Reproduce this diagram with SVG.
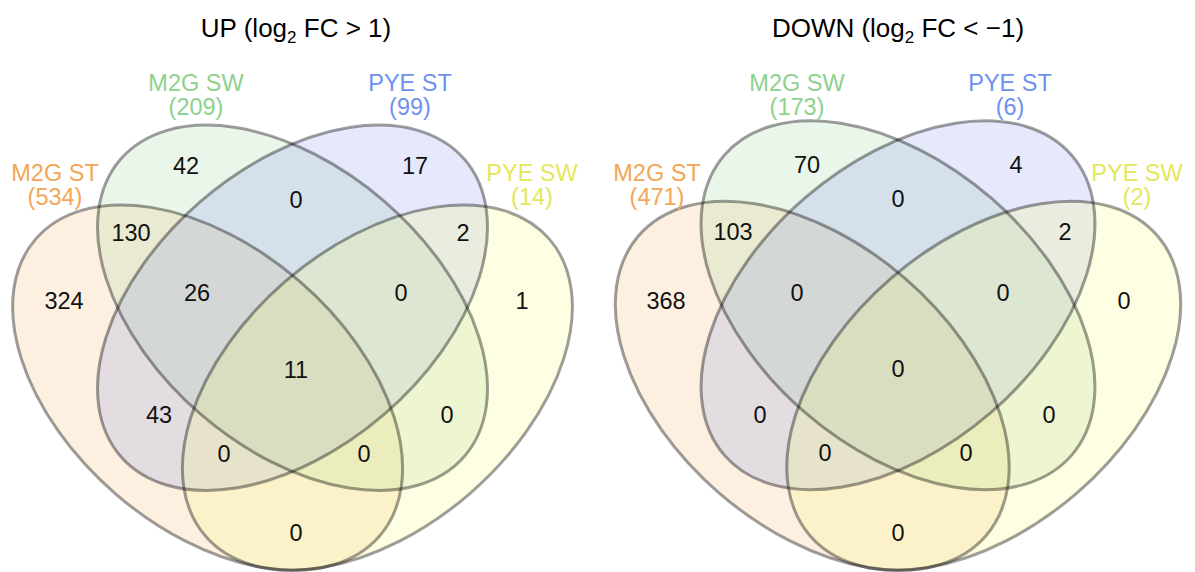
<svg xmlns="http://www.w3.org/2000/svg" width="1195" height="572" viewBox="0 0 1195 572">
  <style>
    .f1 { fill: #f5b464; fill-opacity: 0.2; }
    .f2 { fill: #9bd296; fill-opacity: 0.2; }
    .f3 { fill: #7d91eb; fill-opacity: 0.2; }
    .f4 { fill: #fafa6e; fill-opacity: 0.2; }
    .ln { fill: none; stroke: #000; stroke-opacity: 0.38; stroke-width: 3; }
    text { font-family: "Liberation Sans", Arial, sans-serif; text-anchor: middle; }
    .title { font-size: 26px; fill: #000; }
    .num { font-size: 23.5px; fill: #111; }
    .cat { font-size: 23.5px; }
    .c1 { fill: #f2a654; }
    .c2 { fill: #8cd28c; }
    .c3 { fill: #6e91f0; }
    .c4 { fill: #e6e65a; }
  </style>
  <defs>
    <!-- four-set ellipse layout, drawn once and reused by both panels -->
    <ellipse id="set1" cx="207.6" cy="387.6" rx="227.2" ry="140.6" transform="rotate(40.8 207.6 387.6)"/>
    <ellipse id="set2" cx="292.5" cy="307.8" rx="227.2" ry="140.6" transform="rotate(40.8 292.5 307.8)"/>
    <ellipse id="set3" cx="292.5" cy="307.8" rx="227.2" ry="140.6" transform="rotate(-40.8 292.5 307.8)"/>
    <ellipse id="set4" cx="377.4" cy="387.6" rx="227.2" ry="140.6" transform="rotate(-40.8 377.4 387.6)"/>
    <g id="venn-shapes">
      <use href="#set1" class="f1"/>
      <use href="#set2" class="f2"/>
      <use href="#set3" class="f3"/>
      <use href="#set4" class="f4"/>
      <use href="#set1" class="ln"/>
      <use href="#set2" class="ln"/>
      <use href="#set3" class="ln"/>
      <use href="#set4" class="ln"/>
    </g>
  </defs>

  <!-- UP panel -->
  <g id="panel-up">
    <use href="#venn-shapes"/>
    <text class="title" x="296" y="36.5">UP (log<tspan dy="6" font-size="17">2</tspan><tspan dy="-6"> FC &gt; 1)</tspan></text>
    <g id="up-labels">
      <text class="cat c1" x="55" y="181">M2G ST</text>
      <text class="cat c1" x="55" y="205">(534)</text>
      <text class="cat c2" x="196" y="91">M2G SW</text>
      <text class="cat c2" x="196" y="115">(209)</text>
      <text class="cat c3" x="410" y="91">PYE ST</text>
      <text class="cat c3" x="410" y="115">(99)</text>
      <text class="cat c4" x="532" y="181">PYE SW</text>
      <text class="cat c4" x="532" y="205">(14)</text>
    </g>
    <g id="up-counts">
      <text class="num" x="186" y="174">42</text>
      <text class="num" x="415" y="174">17</text>
      <text class="num" x="296" y="208">0</text>
      <text class="num" x="131" y="241">130</text>
      <text class="num" x="463" y="241">2</text>
      <text class="num" x="64" y="309">324</text>
      <text class="num" x="197" y="301">26</text>
      <text class="num" x="401" y="301">0</text>
      <text class="num" x="522" y="309">1</text>
      <text class="num" x="296" y="378">11</text>
      <text class="num" x="159" y="423">43</text>
      <text class="num" x="447" y="423">0</text>
      <text class="num" x="224" y="462">0</text>
      <text class="num" x="364" y="462">0</text>
      <text class="num" x="296" y="541">0</text>
    </g>
  </g>

  <!-- DOWN panel -->
  <g id="panel-down">
    <use href="#venn-shapes" transform="translate(898 570) scale(1.01) translate(-292.5 -570)"/>
    <text class="title" x="898" y="36.5">DOWN (log<tspan dy="6" font-size="17">2</tspan><tspan dy="-6"> FC &lt; −1)</tspan></text>
    <g id="down-labels">
      <text class="cat c1" x="657" y="181">M2G ST</text>
      <text class="cat c1" x="657" y="205">(471)</text>
      <text class="cat c2" x="797" y="91">M2G SW</text>
      <text class="cat c2" x="797" y="115">(173)</text>
      <text class="cat c3" x="1010" y="91">PYE ST</text>
      <text class="cat c3" x="1010" y="115">(6)</text>
      <text class="cat c4" x="1137" y="181">PYE SW</text>
      <text class="cat c4" x="1137" y="205">(2)</text>
    </g>
    <g id="down-counts">
      <text class="num" x="807" y="173">70</text>
      <text class="num" x="1016" y="173">4</text>
      <text class="num" x="898" y="207">0</text>
      <text class="num" x="733" y="240">103</text>
      <text class="num" x="1065" y="240">2</text>
      <text class="num" x="666" y="309">368</text>
      <text class="num" x="797" y="301">0</text>
      <text class="num" x="1003" y="301">0</text>
      <text class="num" x="1124" y="309">0</text>
      <text class="num" x="898" y="377">0</text>
      <text class="num" x="760" y="423">0</text>
      <text class="num" x="1049" y="423">0</text>
      <text class="num" x="825" y="461">0</text>
      <text class="num" x="966" y="461">0</text>
      <text class="num" x="898" y="541">0</text>
    </g>
  </g>
</svg>
